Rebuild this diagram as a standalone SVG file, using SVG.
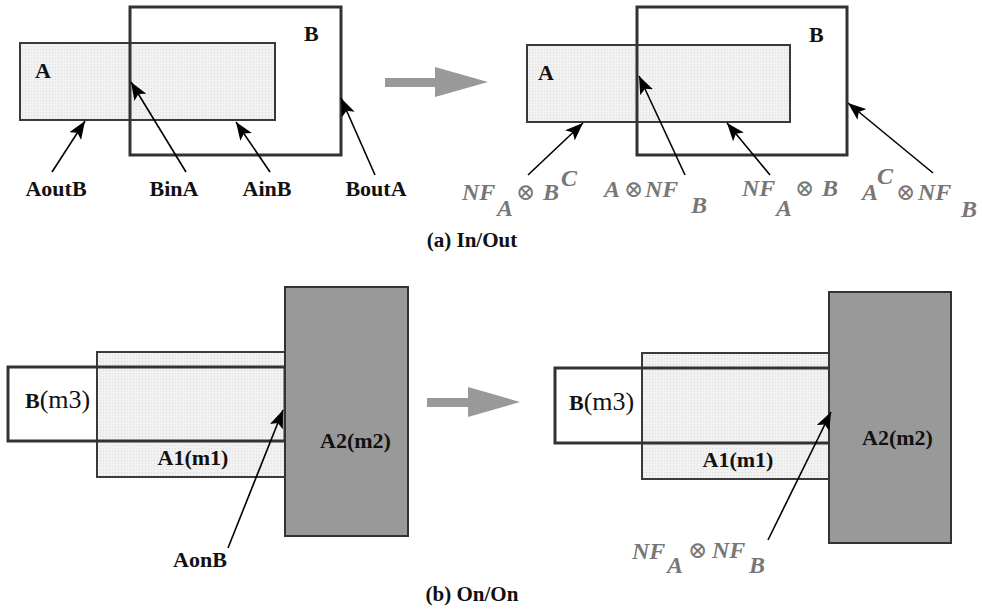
<svg xmlns="http://www.w3.org/2000/svg" width="982" height="612" viewBox="0 0 982 612">
<defs>
<pattern id="dots" width="3" height="3" patternUnits="userSpaceOnUse">
<rect width="3" height="3" fill="#f1f1f1"/>
<rect x="1" y="1" width="1" height="1" fill="#dcdcdc"/>
</pattern>
<marker id="ah" markerUnits="userSpaceOnUse" markerWidth="20" markerHeight="14" refX="18" refY="7" orient="auto">
<path d="M0,0 L18,7 L0,14 L4,7 z" fill="#000"/>
</marker>
<style>
.light{fill:url(#dots);stroke:#3a3a3a;stroke-width:2}
.thick{fill:none;stroke:#333;stroke-width:3}
.dark{fill:#999;stroke:#333;stroke-width:2}
text{font-family:'Liberation Serif','Times New Roman',serif}
.lbl{font-weight:bold;font-size:22px;fill:#111}
.reg{font-weight:normal;font-size:26px}
.nf{font-weight:bold;font-style:italic;font-size:24px;fill:#777}
.op{font-family:'DejaVu Serif',serif;font-style:normal;font-weight:normal;font-size:23px}
.con{stroke:#000;stroke-width:1.6;fill:none;marker-end:url(#ah)}
.big{fill:#999}
</style>
</defs>

<g id="a-left-A"><rect class="light" x="20" y="43" width="255" height="77"/><text class="lbl" x="35" y="78">A</text></g>
<g id="a-left-B"><rect class="thick" x="130" y="7" width="211" height="148"/><text class="lbl" x="304" y="41">B</text></g>

<g id="a-arrow"><path class="big" d="M385,78 H435 V67 L488,82 L435,97 V87 H385 z"/></g>

<g id="a-right-A"><rect class="light" x="527" y="45" width="263" height="77"/><text class="lbl" x="538" y="80">A</text></g>
<g id="a-right-B"><rect class="thick" x="637" y="7" width="210" height="148"/><text class="lbl" x="809" y="42">B</text></g>

<g id="b-left-A1"><rect class="light" x="97" y="352" width="188" height="125"/><text class="lbl" x="193" y="465" text-anchor="middle">A1(m1)</text></g>
<g id="b-left-B"><rect class="thick" x="8" y="367" width="277" height="74"/><text class="lbl" x="25" y="408">B<tspan class="reg">(m3)</tspan></text></g>
<g id="b-left-A2"><rect class="dark" x="285" y="287" width="123" height="249"/><text class="lbl" x="320" y="448">A2(m2)</text></g>

<g id="b-arrow"><path class="big" d="M427,398 H468 V387 L520,402 L468,417 V407 H427 z"/></g>

<g id="b-right-A1"><rect class="light" x="642" y="353" width="188" height="126"/><text class="lbl" x="738" y="467" text-anchor="middle">A1(m1)</text></g>
<g id="b-right-B"><rect class="thick" x="555" y="368" width="276" height="75"/><text class="lbl" x="569" y="410">B<tspan class="reg">(m3)</tspan></text></g>
<g id="b-right-A2"><rect class="dark" x="829" y="292" width="122" height="251"/><text class="lbl" x="862" y="445">A2(m2)</text></g>

<g id="connectors">
<line class="con" x1="52" y1="172" x2="85" y2="121"/>
<line class="con" x1="186" y1="172" x2="131" y2="82"/>
<line class="con" x1="270" y1="172" x2="236" y2="122"/>
<line class="con" x1="375" y1="175" x2="341" y2="98"/>
<line class="con" x1="528" y1="175" x2="583" y2="123"/>
<line class="con" x1="685" y1="175" x2="639" y2="76"/>
<line class="con" x1="770" y1="175" x2="727" y2="123"/>
<line class="con" x1="933" y1="173" x2="848" y2="103"/>
<line class="con" x1="228" y1="548" x2="283" y2="410"/>
<line class="con" x1="768" y1="540" x2="831" y2="412"/>
</g>

<g id="labels">
<text class="lbl" x="56" y="196" text-anchor="middle">AoutB</text>
<text class="lbl" x="174" y="196" text-anchor="middle">BinA</text>
<text class="lbl" x="267" y="196" text-anchor="middle">AinB</text>
<text class="lbl" x="376" y="196" text-anchor="middle">BoutA</text>

<text class="nf"><tspan x="462" y="200">NF</tspan><tspan x="497" y="216">A</tspan><tspan class="op" x="516" y="200">⊗</tspan><tspan x="543" y="200">B</tspan><tspan x="561" y="186">C</tspan></text>
<text class="nf"><tspan x="604" y="197">A</tspan></text>
<text class="nf"><tspan class="op" x="624" y="197">⊗</tspan><tspan x="645" y="197">NF</tspan><tspan x="691" y="213">B</tspan></text>
<text class="nf"><tspan x="742" y="196">NF</tspan><tspan x="776" y="216">A</tspan><tspan class="op" x="795" y="196">⊗</tspan><tspan x="822" y="196">B</tspan></text>
<text class="nf"><tspan x="862" y="200">A</tspan><tspan x="877" y="184">C</tspan><tspan class="op" x="896" y="200">⊗</tspan><tspan x="918" y="200">NF</tspan><tspan x="961" y="217">B</tspan></text>

<text class="nf"><tspan x="632" y="559">NF</tspan><tspan x="667" y="573">A</tspan><tspan class="op" x="688" y="558">⊗</tspan><tspan x="712" y="558">NF</tspan><tspan x="749" y="573">B</tspan></text>

<text class="lbl" x="200" y="567" text-anchor="middle">AonB</text>

<text class="lbl" x="472" y="247" text-anchor="middle" style="font-size:21px">(a) In/Out</text>
<text class="lbl" x="472" y="601" text-anchor="middle" style="font-size:21px">(b) On/On</text>
</g>
</svg>
